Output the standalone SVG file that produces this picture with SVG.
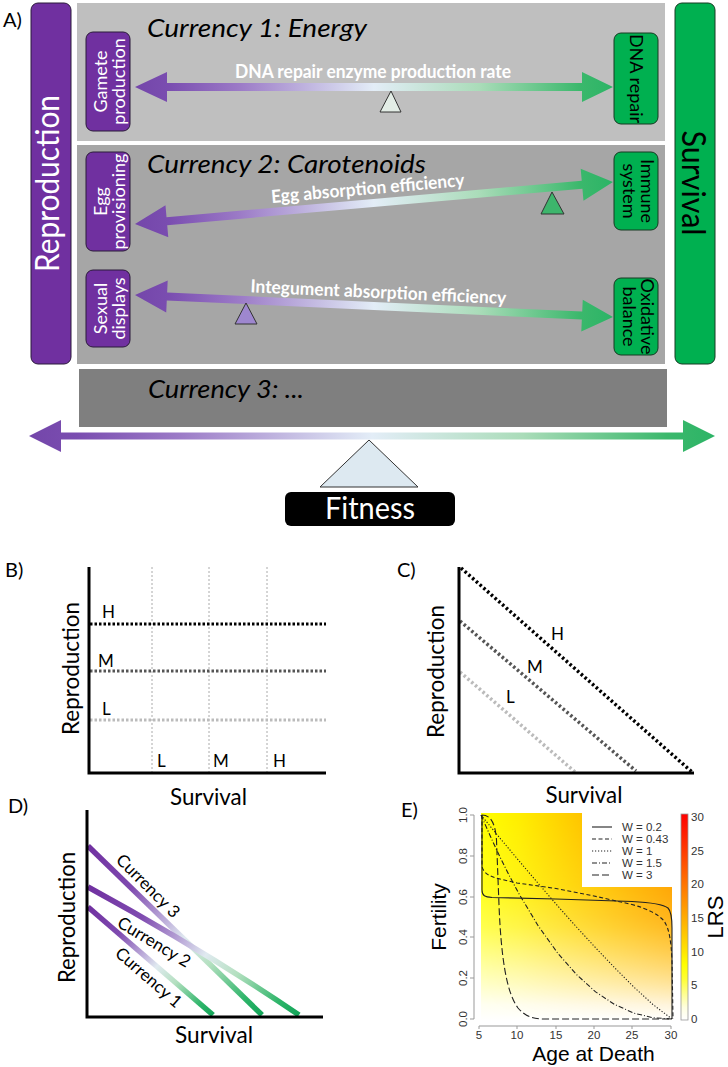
<svg xmlns="http://www.w3.org/2000/svg" width="728" height="1067" viewBox="0 0 728 1067">
<defs>
<style>
text{font-family:Lato,"Open Sans","DejaVu Sans",sans-serif}
.ar{font-family:"Liberation Sans",Arial,sans-serif}
.rep{fill:#7030A0;stroke:#2b1a3a;stroke-width:1}
.sur{fill:#00B050;stroke:#163a22;stroke-width:1}
.wt{fill:#fff}
.ttl{font-style:italic;font-size:26px;fill:#000}
.lbl{font-weight:bold;font-size:18px;fill:#fff}
.box{font-size:18px}
.ax{stroke:#000;stroke-width:3;fill:none}
.ptl{font-size:20px}
.axl{font-size:24px}
.hml{font-size:17px}
.dot{stroke-width:3;stroke-dasharray:2.5 2;fill:none}
.cdot{stroke-width:3.5;stroke-dasharray:2.5 2.5;fill:none}
.vg{stroke:#aaa;stroke-width:1;stroke-dasharray:2 2}
.cv{fill:none;stroke:#222;stroke-width:1.1}
.tk{font-size:11.5px;fill:#333}
.ful{stroke:#333;stroke-width:1}
.cur{fill:none;stroke-width:5.5}
</style>
<linearGradient id="ga" x1="0" y1="0" x2="1" y2="0">
<stop offset="0" stop-color="#7446aa"/>
<stop offset="0.07" stop-color="#7a4db0"/>
<stop offset="0.22" stop-color="#9c7bc7"/>
<stop offset="0.5" stop-color="#e3edf7"/>
<stop offset="0.72" stop-color="#aadcb9"/>
<stop offset="0.93" stop-color="#3bb86c"/>
<stop offset="1" stop-color="#2cb466"/>
</linearGradient>
<linearGradient id="gc3" x1="88" y1="846" x2="262" y2="1015" gradientUnits="userSpaceOnUse">
<stop offset="0" stop-color="#7030a0"/><stop offset="0.25" stop-color="#7f4bb0"/><stop offset="0.45" stop-color="#c0b2dc"/><stop offset="0.55" stop-color="#e0eaf0"/><stop offset="0.7" stop-color="#b4e0c0"/><stop offset="0.9" stop-color="#2fb56a"/><stop offset="1" stop-color="#12a458"/>
</linearGradient>
<linearGradient id="gc2" x1="88" y1="887" x2="299" y2="1015" gradientUnits="userSpaceOnUse">
<stop offset="0" stop-color="#7030a0"/><stop offset="0.25" stop-color="#7f4bb0"/><stop offset="0.45" stop-color="#c0b2dc"/><stop offset="0.55" stop-color="#e0eaf0"/><stop offset="0.7" stop-color="#b4e0c0"/><stop offset="0.9" stop-color="#2fb56a"/><stop offset="1" stop-color="#12a458"/>
</linearGradient>
<linearGradient id="gc1" x1="88" y1="907" x2="213" y2="1015" gradientUnits="userSpaceOnUse">
<stop offset="0" stop-color="#7030a0"/><stop offset="0.25" stop-color="#7f4bb0"/><stop offset="0.45" stop-color="#c0b2dc"/><stop offset="0.55" stop-color="#e0eaf0"/><stop offset="0.7" stop-color="#b4e0c0"/><stop offset="0.9" stop-color="#2fb56a"/><stop offset="1" stop-color="#12a458"/>
</linearGradient>
<linearGradient id="hmBase" x1="0" y1="1021" x2="0" y2="813" gradientUnits="userSpaceOnUse">
<stop offset="0" stop-color="#ffffff"/><stop offset="0.08" stop-color="#fffff0"/><stop offset="0.25" stop-color="#ffffa8"/><stop offset="0.45" stop-color="#ffff50"/><stop offset="0.65" stop-color="#ffff18"/><stop offset="1" stop-color="#ffff00"/>
</linearGradient>
<linearGradient id="hmH" x1="481" y1="0" x2="672" y2="0" gradientUnits="userSpaceOnUse">
<stop offset="0" stop-color="#000"/><stop offset="0.2" stop-color="#262626"/><stop offset="1" stop-color="#fff"/>
</linearGradient>
<linearGradient id="hmV" x1="0" y1="1019" x2="0" y2="815" gradientUnits="userSpaceOnUse">
<stop offset="0" stop-color="#000"/><stop offset="0.2" stop-color="#404040"/><stop offset="0.5" stop-color="#999"/><stop offset="1" stop-color="#ebebeb"/>
</linearGradient>
<mask id="mV" maskUnits="userSpaceOnUse" x="0" y="0" width="728" height="1067">
<rect x="481" y="813" width="191" height="208" fill="url(#hmV)"/>
</mask>
<mask id="mHV" maskUnits="userSpaceOnUse" x="0" y="0" width="728" height="1067">
<rect x="481" y="813" width="191" height="208" fill="url(#hmH)" mask="url(#mV)"/>
</mask>
<linearGradient id="gcb" x1="0" y1="1020" x2="0" y2="814" gradientUnits="userSpaceOnUse">
<stop offset="0" stop-color="#ffffff"/><stop offset="0.06" stop-color="#ffffe0"/><stop offset="0.12" stop-color="#ffff99"/><stop offset="0.2" stop-color="#ffff33"/><stop offset="0.27" stop-color="#ffff00"/><stop offset="0.33" stop-color="#ffe600"/><stop offset="0.5" stop-color="#ffaa00"/><stop offset="0.67" stop-color="#ff7100"/><stop offset="0.83" stop-color="#ff3800"/><stop offset="1" stop-color="#ff0000"/>
</linearGradient>
</defs>
<rect width="728" height="1067" fill="#fff"/>

<!-- Panel A -->
<text x="3" y="27" class="ptl">A)</text>
<g id="currency1"><rect x="77" y="3" width="588" height="138" fill="#bfbfbf"/><text x="147" y="37" class="ttl" textLength="220" lengthAdjust="spacingAndGlyphs">Currency 1: Energy</text></g>
<g id="currency2"><rect x="77" y="145" width="588" height="219" fill="#a6a6a6"/><text x="147" y="173" class="ttl" textLength="279" lengthAdjust="spacingAndGlyphs">Currency 2: Carotenoids</text></g>
<g id="currency3"><rect x="79" y="369" width="588" height="58" fill="#7f7f7f"/><text x="148" y="398" class="ttl" textLength="156" lengthAdjust="spacingAndGlyphs">Currency 3: ...</text></g>
<g id="reproduction"><rect class="rep" x="31" y="3" width="40" height="361" rx="7"/><text transform="translate(59,183.5) rotate(-90)" text-anchor="middle" class="wt" font-size="32" textLength="177" lengthAdjust="spacingAndGlyphs">Reproduction</text></g>
<g id="survival"><rect class="sur" x="675" y="3" width="40" height="361" rx="7"/><text transform="translate(682,183) rotate(90)" text-anchor="middle" font-size="32" textLength="105" lengthAdjust="spacingAndGlyphs">Survival</text></g>

<g id="gamete-production"><rect class="rep" x="86" y="32" width="44" height="99" rx="7"/><text transform="translate(107,81.5) rotate(-90)" text-anchor="middle" class="box wt">Gamete</text><text transform="translate(125,81.5) rotate(-90)" text-anchor="middle" class="box wt">production</text></g>
<g id="egg-provisioning"><rect class="rep" x="86" y="152" width="44" height="99" rx="7"/><text transform="translate(107,201.5) rotate(-90)" text-anchor="middle" class="box wt">Egg</text><text transform="translate(125,201.5) rotate(-90)" text-anchor="middle" class="box wt">provisioning</text></g>
<g id="sexual-displays"><rect class="rep" x="86" y="270" width="44" height="77" rx="7"/><text transform="translate(107,308.5) rotate(-90)" text-anchor="middle" class="box wt">Sexual</text><text transform="translate(125,308.5) rotate(-90)" text-anchor="middle" class="box wt">displays</text></g>
<g id="dna-repair"><rect class="sur" x="614" y="33" width="44" height="91" rx="7"/><text transform="translate(630,78.5) rotate(90)" text-anchor="middle" class="box">DNA repair</text></g>
<g id="immune-system"><rect class="sur" x="614" y="152" width="44" height="78" rx="7"/><text transform="translate(641,191) rotate(90)" text-anchor="middle" class="box">Immune</text><text transform="translate(623,191) rotate(90)" text-anchor="middle" class="box">system</text></g>
<g id="oxidative-balance"><rect class="sur" x="614" y="278" width="44" height="77" rx="7"/><text transform="translate(641,316.5) rotate(90)" text-anchor="middle" class="box">Oxidative</text><text transform="translate(623,316.5) rotate(90)" text-anchor="middle" class="box">balance</text></g>

<g id="connectors">
<path d="M135,87 L167,72 L167,83 L582,83 L582,72 L613,87 L582,102 L582,91 L167,91 L167,102 Z" fill="url(#ga)"/>
<text x="235" y="78" class="lbl" textLength="276" lengthAdjust="spacingAndGlyphs">DNA repair enzyme production rate</text>
<g transform="translate(135,224) rotate(-5.02)">
<path d="M0,0 L32,-16 L32,-4 L448.8,-4 L448.8,-16 L479.8,0 L448.8,16 L448.8,4 L32,4 L32,16 Z" fill="url(#ga)"/>
<text x="138" y="-9" class="lbl" textLength="194" lengthAdjust="spacingAndGlyphs">Egg absorption efficiency</text>
</g>
<g transform="translate(135,295) rotate(2.64)">
<path d="M0,0 L32,-16 L32,-4 L447.5,-4 L447.5,-16 L478.5,0 L447.5,16 L447.5,4 L32,4 L32,16 Z" fill="url(#ga)"/>
<text x="115" y="-8" class="lbl" textLength="256" lengthAdjust="spacingAndGlyphs">Integument absorption efficiency</text>
</g>
<path d="M29,436 L61,420 L61,432.5 L683,432.5 L683,420 L715,436 L683,452 L683,439.5 L61,439.5 L61,452 Z" fill="url(#ga)"/>
</g>
<g id="fulcrums">
<polygon class="ful" points="391,91 380,112 401,112" fill="#e3ede6"/>
<polygon class="ful" points="552,192 541,214 564,214" fill="#3db56c"/>
<polygon class="ful" points="246,303 235,324 257,324" fill="#9e87cf"/>
</g>
<g id="fitness">
<polygon class="ful" points="369,440 320,487 418,487" fill="#dde9f1"/>
<rect x="285" y="492" width="170" height="34" rx="6" fill="#000"/>
<text x="370" y="519" text-anchor="middle" class="wt" font-size="31" textLength="90" lengthAdjust="spacingAndGlyphs">Fitness</text>
</g>

<!-- Panel B -->
<g id="panelB">
<text x="5" y="577" class="ptl">B)</text>
<line class="vg" x1="152" y1="567" x2="152" y2="772"/>
<line class="vg" x1="209" y1="567" x2="209" y2="772"/>
<line class="vg" x1="267" y1="567" x2="267" y2="772"/>
<line class="dot" x1="90" y1="624" x2="326" y2="624" stroke="#000"/>
<line class="dot" x1="90" y1="671" x2="326" y2="671" stroke="#555"/>
<line class="dot" x1="90" y1="720" x2="326" y2="720" stroke="#bbb"/>
<path class="ax" d="M89,567 V773 H326"/>
<text x="102" y="618" class="hml">H</text>
<text x="98" y="667" class="hml">M</text>
<text x="102" y="715" class="hml">L</text>
<text x="157" y="767" class="hml">L</text>
<text x="213" y="767" class="hml">M</text>
<text x="273" y="767" class="hml">H</text>
<text x="208.5" y="805" text-anchor="middle" class="axl" textLength="77" lengthAdjust="spacingAndGlyphs">Survival</text>
<text transform="translate(79,668.5) rotate(-90)" text-anchor="middle" class="axl" textLength="133" lengthAdjust="spacingAndGlyphs">Reproduction</text>
</g>

<!-- Panel C -->
<g id="panelC">
<text x="397" y="577" class="ptl">C)</text>
<line class="cdot" x1="461" y1="568" x2="692" y2="772" stroke="#000"/>
<line class="cdot" x1="460" y1="621" x2="636" y2="771" stroke="#555"/>
<line class="cdot" x1="460" y1="672" x2="575" y2="772" stroke="#bbb"/>
<path class="ax" d="M459,567 V773 H694"/>
<text x="551" y="640" class="hml">H</text>
<text x="527" y="673" class="hml">M</text>
<text x="506" y="703" class="hml">L</text>
<text x="584" y="803" text-anchor="middle" class="axl" textLength="77" lengthAdjust="spacingAndGlyphs">Survival</text>
<text transform="translate(444,671.5) rotate(-90)" text-anchor="middle" class="axl" textLength="133" lengthAdjust="spacingAndGlyphs">Reproduction</text>
</g>

<!-- Panel D -->
<g id="panelD">
<text x="8" y="813" class="ptl">D)</text>
<line class="cur" x1="88" y1="846" x2="262" y2="1015" stroke="url(#gc3)"/>
<path class="cur" d="M88,887 Q200,948 299,1015" stroke="url(#gc2)"/>
<line class="cur" x1="88" y1="907" x2="213" y2="1015" stroke="url(#gc1)"/>
<path class="ax" d="M87,810 V1017 H323"/>
<text transform="translate(115,861) rotate(45)" font-size="17">Currency 3</text>
<text transform="translate(116,926) rotate(31)" font-size="17">Currency 2</text>
<text transform="translate(114,955) rotate(41)" font-size="17">Currency 1</text>
<text x="214" y="1043" text-anchor="middle" class="axl" textLength="78" lengthAdjust="spacingAndGlyphs">Survival</text>
<text transform="translate(75,917.5) rotate(-90)" text-anchor="middle" class="axl" textLength="131" lengthAdjust="spacingAndGlyphs">Reproduction</text>
</g>

<!-- Panel E -->
<g id="panelE">
<text x="401" y="817" class="ptl">E)</text>
<rect x="481" y="813" width="191" height="208" fill="url(#hmBase)"/>
<rect x="481" y="813" width="191" height="208" fill="#ff8000" mask="url(#mHV)"/>
<path class="cv" d="M482,815 L482,890 C482,896 485,897 492,897.5 L556,899 L632,901.5 C652,902.5 663,904 668,908 C671,911 672,918 672,928 L672,1019"/>
<path class="cv" stroke-dasharray="4 2.5" d="M482,815 L482,866 C483,873 490,877 500,879 L517,883 L556,888.5 L594,896 L632,904.5 C648,909 658,914 664,921 C669,928 671,940 672,960 L673,1019"/>
<polyline class="cv" stroke-dasharray="1.2 1.8" points="481,815 500.1,838.3 519.2,861.1 538.3,883.5 557.4,905.6 576.5,927 595.6,947.8 614.7,967.8 633.8,987 652.9,1004.5 672,1019"/>
<polyline class="cv" stroke-dasharray="5 2 1 2" points="481,815 490.6,836.8 500.1,857.2 509.7,876.4 519.2,894.2 538.3,926 557.4,952.7 576.5,974.5 595.6,991.9 614.7,1004.5 633.8,1013.1 652.9,1017.7 672,1019"/>
<path class="cv" stroke-dasharray="7 3" d="M482,815 C489,815 495,820 496.5,840 L499,905 C501,955 506,992 518,1008 C525,1016 532,1019 545,1019 L672,1019"/>
<rect x="582" y="813" width="90" height="74" fill="#fff"/>
<line class="cv" x1="592" y1="827" x2="612" y2="827"/>
<line class="cv" x1="592" y1="839" x2="612" y2="839" stroke-dasharray="4 2.5"/>
<line class="cv" x1="592" y1="851" x2="612" y2="851" stroke-dasharray="1.2 1.8"/>
<line class="cv" x1="592" y1="863" x2="612" y2="863" stroke-dasharray="5 2 1 2"/>
<line class="cv" x1="592" y1="875" x2="612" y2="875" stroke-dasharray="7 3"/>
<text x="622" y="831" class="ar tk">W = 0.2</text>
<text x="622" y="843" class="ar tk">W = 0.43</text>
<text x="622" y="855" class="ar tk">W = 1</text>
<text x="622" y="867" class="ar tk">W = 1.5</text>
<text x="622" y="879" class="ar tk">W = 3</text>
<rect x="681" y="814" width="7" height="206" fill="url(#gcb)" stroke="#999" stroke-width="0.8"/>
<text x="691" y="1023" class="ar tk">0</text>
<text x="691" y="989" class="ar tk">5</text>
<text x="691" y="956" class="ar tk">10</text>
<text x="691" y="922" class="ar tk">15</text>
<text x="691" y="888" class="ar tk">20</text>
<text x="691" y="855" class="ar tk">25</text>
<text x="691" y="821" class="ar tk">30</text>
<path d="M474,815 V1019 M470,1019 H474 M470,978 H474 M470,937 H474 M470,897 H474 M470,856 H474 M470,815 H474 M479,1026 H671 M479,1026 V1029 M517,1026 V1029 M556,1026 V1029 M594,1026 V1029 M632,1026 V1029 M671,1026 V1029" stroke="#999" stroke-width="1" fill="none"/>
<text transform="translate(467,1019) rotate(-90)" text-anchor="middle" class="ar tk">0.0</text>
<text transform="translate(467,978) rotate(-90)" text-anchor="middle" class="ar tk">0.2</text>
<text transform="translate(467,937) rotate(-90)" text-anchor="middle" class="ar tk">0.4</text>
<text transform="translate(467,897) rotate(-90)" text-anchor="middle" class="ar tk">0.6</text>
<text transform="translate(467,856) rotate(-90)" text-anchor="middle" class="ar tk">0.8</text>
<text transform="translate(467,815) rotate(-90)" text-anchor="middle" class="ar tk">1.0</text>
<text x="479" y="1039" text-anchor="middle" class="ar tk">5</text>
<text x="517" y="1039" text-anchor="middle" class="ar tk">10</text>
<text x="556" y="1039" text-anchor="middle" class="ar tk">15</text>
<text x="594" y="1039" text-anchor="middle" class="ar tk">20</text>
<text x="632" y="1039" text-anchor="middle" class="ar tk">25</text>
<text x="671" y="1039" text-anchor="middle" class="ar tk">30</text>
<text x="593.5" y="1061" text-anchor="middle" class="ar" font-size="21">Age at Death</text>
<text transform="translate(446,917) rotate(-90)" text-anchor="middle" class="ar" font-size="21">Fertility</text>
<text transform="translate(723,917) rotate(-90)" text-anchor="middle" class="ar" font-size="22">LRS</text>
</g>
</svg>
